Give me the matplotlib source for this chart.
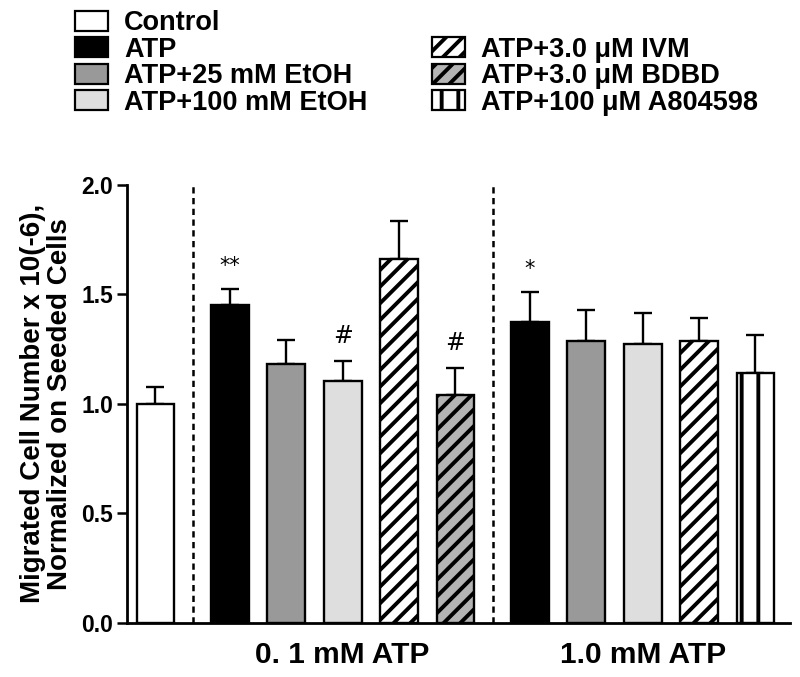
import matplotlib
matplotlib.use('Agg')
import matplotlib.pyplot as plt
from matplotlib.patches import Patch
import numpy as np

plt.rcParams['font.family'] = ['Liberation Sans', 'DejaVu Sans']
plt.rcParams['font.weight'] = 'bold'
plt.rcParams['hatch.linewidth'] = 2.8

# ---- data ----
treatments = ['Control', 'ATP', 'ATP+25 mM EtOH', 'ATP+100 mM EtOH',
              'ATP+3.0 μM IVM', 'ATP+3.0 μM BDBD', 'ATP+100 μM A804598']
group_labels = ['', '0. 1 mM ATP', '1.0 mM ATP']

g0_members = ['Control']
g0_means = [1.00]
g0_sem = [0.075]
g0_marks = ['']

g1_members = ['ATP', 'ATP+25 mM EtOH', 'ATP+100 mM EtOH', 'ATP+3.0 μM IVM', 'ATP+3.0 μM BDBD']
g1_means = [1.452, 1.183, 1.105, 1.662, 1.040]
g1_sem = [0.073, 0.110, 0.092, 0.175, 0.122]
g1_marks = ['**', '', '#', '', '#']

g2_members = ['ATP', 'ATP+25 mM EtOH', 'ATP+100 mM EtOH', 'ATP+3.0 μM IVM', 'ATP+100 μM A804598']
g2_means = [1.372, 1.285, 1.272, 1.285, 1.142]
g2_sem = [0.140, 0.142, 0.143, 0.105, 0.173]
g2_marks = ['*', '', '', '', '']

# ---- styles ----
style = {
    'Control': dict(facecolor='white', hatch=None),
    'ATP': dict(facecolor='black', hatch=None),
    'ATP+25 mM EtOH': dict(facecolor='#999999', hatch=None),
    'ATP+100 mM EtOH': dict(facecolor='#dedede', hatch=None),
    'ATP+3.0 μM IVM': dict(facecolor='white', hatch='//'),
    'ATP+3.0 μM BDBD': dict(facecolor='#b4b4b4', hatch='//'),
    'ATP+100 μM A804598': dict(facecolor='white', hatch='|'),
}

groups = [(g0_members, g0_means, g0_sem, g0_marks),
          (g1_members, g1_means, g1_sem, g1_marks),
          (g2_members, g2_means, g2_sem, g2_marks)]

group_gap = 0.32
bar_w = 0.67

fig = plt.figure(figsize=(8, 6.77), dpi=100)
ax = fig.add_axes([0.159, 0.080, 0.829, 0.647])

x = 0.0
group_centers = []
group_bounds = []
for gi, (members, means, sems, marks) in enumerate(groups):
    if gi > 0:
        x += group_gap
    xs = []
    for m, v, s, mk in zip(members, means, sems, marks):
        st = style[m]
        ax.errorbar(x, v, yerr=[[0], [s]], fmt='none', ecolor='black',
                    elinewidth=1.7, capsize=6.5, capthick=1.7, zorder=2)
        ax.bar(x, v, width=bar_w, color=st['facecolor'], edgecolor='black',
               linewidth=1.7, hatch=st['hatch'], zorder=3)
        if mk:
            ax.text(x, v + s + 0.06, mk, ha='center', va='bottom',
                    fontsize=17 if '#' in mk else 15, fontweight='normal',
                    family='DejaVu Sans')
        xs.append(x)
        x += 1.0
    group_centers.append(np.mean(xs))
    group_bounds.append((xs[0], xs[-1]))

# dashed separators
for i in range(1, len(groups)):
    sep = (group_bounds[i - 1][1] + group_bounds[i][0]) / 2
    ax.plot([sep, sep], [0, 2.0], color='black', lw=1.8,
            linestyle=(0, (2.5, 1.8)), zorder=1, clip_on=False)

ax.set_xlim(-0.5, group_bounds[-1][1] + 0.62)
ax.set_ylim(0, 2.0)
ax.set_yticks([0, 0.5, 1.0, 1.5, 2.0])
ax.set_yticklabels(['0.0', '0.5', '1.0', '1.5', '2.0'])
ax.set_xticks(group_centers[1:])
ax.set_xticklabels(group_labels[1:], fontsize=21.5, fontweight='bold')
ax.tick_params(axis='x', length=0, pad=13)
ax.tick_params(axis='y', length=7, width=1.8, labelsize=16.5, pad=3)
for lab in ax.get_yticklabels():
    lab.set_fontweight('bold')
for sp in ['top', 'right']:
    ax.spines[sp].set_visible(False)
for sp in ['left', 'bottom']:
    ax.spines[sp].set_linewidth(2.0)

ax.set_ylabel('Migrated Cell Number x 10(-6),\nNormalized on Seeded Cells',
              fontsize=20, fontweight='bold', labelpad=6, linespacing=1.05)

# legend
handles = []
labels = []
for t in treatments[:4]:
    st = style[t]
    handles.append(Patch(facecolor=st['facecolor'], edgecolor='black', hatch=st['hatch'], linewidth=1.6))
    labels.append(t)
handles.append(Patch(facecolor='none', edgecolor='none'))
labels.append('')
for t in treatments[4:]:
    st = style[t]
    handles.append(Patch(facecolor=st['facecolor'], edgecolor='black', hatch=st['hatch'], linewidth=1.6))
    labels.append(t)

leg = fig.legend(handles, labels, ncol=2, loc='upper left',
                 bbox_to_anchor=(0.077, 1.005), frameon=False,
                 prop=dict(size=19.5, weight='bold'),
                 handlelength=1.2, handleheight=0.75, labelspacing=0.02,
                 handletextpad=0.6, columnspacing=2.4, borderaxespad=0.1)

fig.savefig('out.png', dpi=100)
